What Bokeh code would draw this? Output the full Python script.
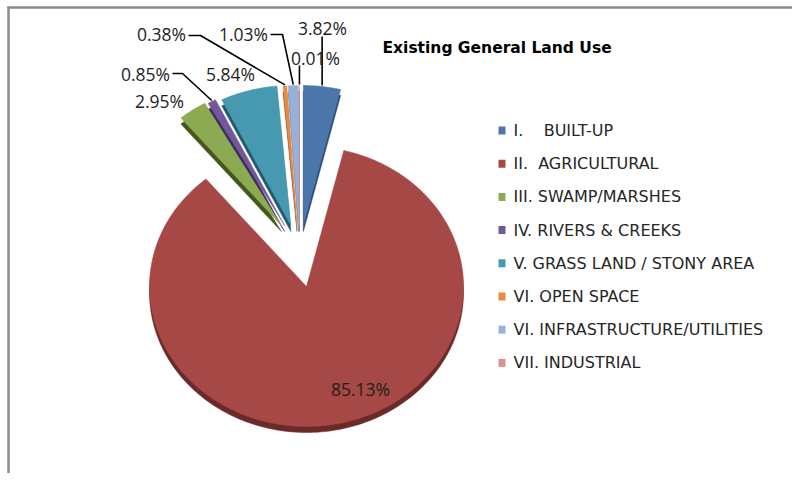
import math
from bokeh.plotting import figure
from bokeh.models import Range1d
from bokeh.embed import file_html
from bokeh.resources import INLINE
from bokeh.core.properties import value

# ---------------- data ----------------
categories = [
    "I.\u00a0\u00a0\u00a0 BUILT-UP",
    "II.\u00a0\u00a0AGRICULTURAL",
    "III. SWAMP/MARSHES",
    "IV. RIVERS & CREEKS",
    "V. GRASS LAND / STONY AREA",
    "VI. OPEN SPACE",
    "VI. INFRASTRUCTURE/UTILITIES",
    "VII. INDUSTRIAL",
]
shares = [3.82, 85.13, 2.95, 0.85, 5.84, 0.38, 1.03, 0.01]
share_labels = ["3.82%", "85.13%", "2.95%", "0.85%", "5.84%", "0.38%", "1.03%", "0.01%"]
exploded = [True, False, True, True, True, True, True, True]
title_text = "Existing General Land Use"

# ---------------- style / layout ----------------
top_colors = ["#4A76AA", "#A64846", "#8BAA52", "#72589A", "#4699B1", "#E88A40", "#97B1D8", "#D49592"]
side_colors = ["#2C4870", "#6A2A29", "#44561F", "#3D2C58", "#215A6B", "#8A4C1C", "#5A7299", "#8A5250"]

W, H = 792, 473
CX, CY = 306.0, 286.0      # pie centre (px)
RX, RY = 157.0, 140.0      # ellipse radii
DEPTH = 6.0
EXP_OFF, EXP_X, EXP_Y = -7.0, 32.0, -61.0   # explosion offsets

LABEL_FONT = "Open Sans"
LEGEND_FONT = "DejaVu Sans"
TEXT_COLOR = "#1E1E1E"

# label anchor positions (px) for each slice
label_pos = [(322, 27), (360, 388), (159, 100), (145, 73), (230, 73), (161, 33), (243, 33), (315, 57)]
# leader style: None, ("v", y_top) or ("elbow", x_start, x_elbow, y)
leaders = [("v", 36), None, None, ("elbow", 172, 182, 73), None,
           ("elbow", 188, 200, 35), ("elbow", 270, 282, 34), ("v", 65)]

legend_x, legend_y0, legend_dy = 498, 130, 33.2

# ---------------- figure ----------------
p = figure(width=W, height=H, x_range=Range1d(0, W), y_range=Range1d(H, 0),
           output_backend="svg", toolbar_location=None, min_border=0,
           background_fill_color="white", border_fill_color="white")
p.axis.visible = False
p.grid.visible = False
p.outline_line_color = None

# frame (top and left edges visible)
p.segment(x0=[8, 7], y0=[H, 7], x1=[8, W], y1=[6, 7], line_color="#8C8C8C", line_width=2.5)


def pt(cx, cy, ang_deg):
    a = math.radians(ang_deg)
    return cx + RX * math.sin(a), cy - RY * math.cos(a)


total = sum(shares)
geoms = []
start = 0.0
for i, v in enumerate(shares):
    sweep = 360.0 * v / total
    end = start + sweep
    mid = (start + end) / 2.0
    if exploded[i]:
        dx = EXP_OFF + EXP_X * math.sin(math.radians(mid))
        dy = EXP_Y
    else:
        dx, dy = 0.0, 0.0
    cx, cy = CX + dx, CY + dy
    n = max(3, int(sweep / 1.5) + 2)
    xs, ys = [cx], [cy]
    for k in range(n + 1):
        x, y = pt(cx, cy, start + sweep * k / n)
        xs.append(x)
        ys.append(y)
    geoms.append((xs, ys, cx, cy, mid))
    start = end

# sides (depth) first
for i, (xs, ys, cx, cy, mid) in enumerate(geoms):
    p.patch(x=xs, y=[y + DEPTH for y in ys], fill_color=side_colors[i], line_color=side_colors[i], line_width=0.5)
for i, (xs, ys, cx, cy, mid) in enumerate(geoms):
    p.patch(x=xs, y=ys, fill_color=top_colors[i], line_color=top_colors[i], line_width=0.5)

# leader lines
for i, ld in enumerate(leaders):
    if ld is None:
        continue
    xs, ys, cx, cy, mid = geoms[i]
    ex, ey = pt(cx, cy, mid)
    if ld[0] == "v":
        lx, ly = [ex, ex], [ld[1], ey - 1]
    else:
        lx, ly = [ld[1], ld[2], ex], [ld[3], ld[3], ey - 1]
    p.line(x=lx, y=ly, line_color="black", line_width=1.6)

# data labels
p.text(x=[q[0] for q in label_pos], y=[q[1] for q in label_pos], text=share_labels,
       text_font=value(LABEL_FONT), text_font_size="17.5px", text_color=TEXT_COLOR,
       text_align="center", text_baseline="middle")

# title
p.text(x=[382], y=[47], text=[title_text], text_font=value(LEGEND_FONT), text_font_size="15.5px",
       text_font_style="bold", text_color="black", text_align="left", text_baseline="middle")

# legend
ly = [legend_y0 + legend_dy * i for i in range(len(categories))]
p.rect(x=[legend_x + 3.5] * len(categories), y=ly, width=7, height=8, fill_color=top_colors,
       line_color=None)
p.text(x=[legend_x + 15] * len(categories), y=ly, text=categories, text_font=value(LEGEND_FONT),
       text_font_size="16px", text_color="#262626", text_align="left", text_baseline="middle")

open("out.html", "w").write(file_html(p, INLINE))
